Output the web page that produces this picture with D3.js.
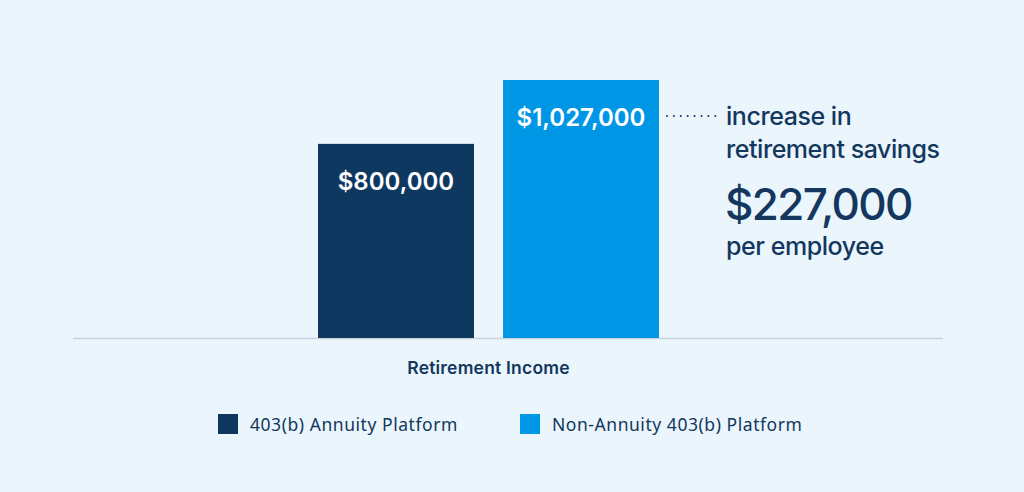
<!DOCTYPE html>
<html>
<head>
<meta charset="utf-8">
<script src="https://cdn.jsdelivr.net/npm/d3@7"></script>
<style>
  html, body { margin: 0; padding: 0; background: #eaf5fc; }
  svg { display: block; }
</style>
</head>
<body>
<div id="chart"></div>
<script>
const series = ['403(b) Annuity Platform', 'Non-Annuity 403(b) Platform'];
const values = [800000, 1027000];
const valueLabels = ['$800,000', '$1,027,000'];
const colors = ['#0f3861', '#0096e6'];
const category = 'Retirement Income';
const calloutLines = ['increase in', 'retirement savings'];
const calloutValue = '$227,000';
const calloutTail = 'per employee';

const width = 1024, height = 492;
const textColor = '#13375e';

const svg = d3.select('#chart').append('svg')
  .attr('width', width)
  .attr('height', height);

svg.append('rect').attr('width', width).attr('height', height).attr('fill', '#eaf5fc');

const x = d3.scaleBand()
  .domain(series)
  .range([318, 659])
  .paddingInner(0.157)
  .paddingOuter(0);

const y = d3.scaleLinear()
  .domain([110000, 1027000])
  .range([338, 80]);

// baseline
svg.append('line')
  .attr('x1', 73).attr('x2', 943)
  .attr('y1', 338.5).attr('y2', 338.5)
  .attr('stroke', '#c9d3dc')
  .attr('stroke-width', 1.5);

svg.selectAll('rect.bar')
  .data(values)
  .enter()
  .append('rect')
  .attr('class', 'bar')
  .attr('x', (d, i) => x(series[i]))
  .attr('y', d => y(d))
  .attr('width', x.bandwidth())
  .attr('height', d => y.range()[0] - y(d))
  .attr('fill', (d, i) => colors[i]);

svg.selectAll('text.val')
  .data(values)
  .enter()
  .append('text')
  .attr('class', 'val')
  .attr('x', (d, i) => x(series[i]) + x.bandwidth() / 2)
  .attr('y', d => y(d) + 46)
  .attr('text-anchor', 'middle')
  .attr('fill', '#fff')
  .style('font-family', 'Inter, sans-serif')
  .style('font-size', '24px')
  .style('font-weight', 600)
  .text((d, i) => valueLabels[i]);

// dotted leader from the taller bar
const tall = series[1];
const leaderY = y(values[1]) + 36;
svg.append('line')
  .attr('x1', x(tall) + x.bandwidth() + 8)
  .attr('x2', x(tall) + x.bandwidth() + 57)
  .attr('y1', leaderY).attr('y2', leaderY)
  .attr('stroke', textColor)
  .attr('stroke-width', 2)
  .attr('stroke-linecap', 'round')
  .attr('stroke-dasharray', '0 6.9');

const cx = 726;
const callout = svg.append('g').attr('fill', textColor).style('font-family', 'Inter, sans-serif');
calloutLines.forEach((t, i) => {
  callout.append('text')
    .attr('x', cx).attr('y', 125 + i * 33)
    .style('font-size', '25px').style('font-weight', 500)
    .style('letter-spacing', '-0.45px')
    .text(t);
});
callout.append('text')
  .attr('x', cx - 1).attr('y', 220)
  .style('font-size', '44px').style('font-weight', 500)
  .style('letter-spacing', '-1.6px')
  .text(calloutValue);
callout.append('text')
  .attr('x', cx).attr('y', 255)
  .style('font-size', '25px').style('font-weight', 500)
  .style('letter-spacing', '-0.45px')
  .text(calloutTail);

// axis title
svg.append('text')
  .attr('x', (x.range()[0] + x.range()[1]) / 2)
  .attr('y', 374)
  .attr('text-anchor', 'middle')
  .attr('fill', textColor)
  .style('font-family', 'Inter, sans-serif')
  .style('font-size', '17.5px')
  .style('font-weight', 600)
  .style('letter-spacing', '0.2px')
  .text(category);

// legend
const legendX = [218, 520];
const legend = svg.selectAll('g.legend')
  .data(series)
  .enter()
  .append('g')
  .attr('class', 'legend')
  .attr('transform', (d, i) => `translate(${legendX[i]}, 414)`);

legend.append('rect')
  .attr('width', 20).attr('height', 20)
  .attr('fill', (d, i) => colors[i]);

legend.append('text')
  .attr('x', 32).attr('y', 17)
  .attr('fill', textColor)
  .style('font-family', '"Noto Sans", sans-serif')
  .style('font-size', '17.5px')
  .style('letter-spacing', '0.55px')
  .text(d => d);
</script>
</body>
</html>
